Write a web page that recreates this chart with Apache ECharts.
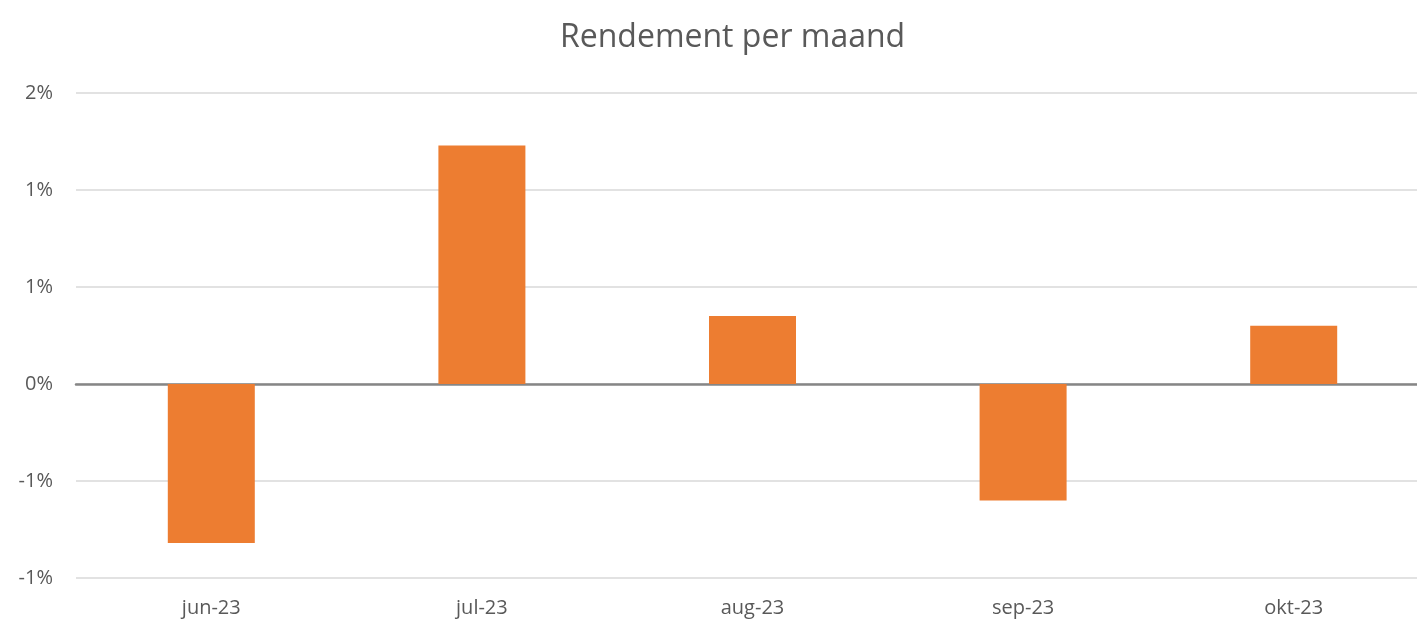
<!DOCTYPE html>
<html>
<head>
<meta charset="utf-8">
<script src="https://cdn.jsdelivr.net/npm/echarts@6/dist/echarts.min.js"></script>
<style>
html,body{margin:0;padding:0;background:#fff;overflow:hidden;}
#chart{width:1429px;height:621px;}
</style>
</head>
<body>
<div id="chart"></div>
<script>
var months = ['jun-23','jul-23','aug-23','sep-23','okt-23'];
var rendement = [-0.82, 1.23, 0.35, -0.60, 0.30];   // in %

function pctLabel(v){
	var r = Math.round(Math.abs(v));
	if(r==0) return '0%';
	return (v<0?'-':'')+r+'%';
}

var myChart = echarts.init(document.getElementById('chart'));
var option = {
	backgroundColor:'#ffffff',
	title:{
		text:'Rendement per maand',
		left:555,
		top:17,
		textStyle:{fontFamily:'Open Sans',fontWeight:'normal',fontSize:32,color:'#595959'}
	},
	// chart is wider than the window: the right part is cut off like the reference
	grid:{left:76,right:0,top:93,bottom:43,containLabel:false},
	xAxis:{
		type:'category',
		data:months,
		axisTick:{show:false},
		axisLine:{show:true,onZero:true,lineStyle:{color:'#868686',width:2.5}},
		axisLabel:{fontFamily:'Open Sans',fontSize:20,color:'#595959',margin:20,interval:0}
	},
	yAxis:{
		type:'value',
		min:-1,
		max:1.5,
		interval:0.5,
		axisLine:{show:false},
		axisTick:{show:false},
		splitLine:{lineStyle:{color:'#d9d9d9',width:1.5}},
		axisLabel:{fontFamily:'Open Sans',fontSize:20,color:'#595959',margin:23,formatter:pctLabel}
	},
	series:[{
		type:'bar',
		data:rendement,
		barWidth:87,
		itemStyle:{color:'#ed7d31'},
		silent:true
	}],
	animation:false
};
myChart.setOption(option);
</script>
</body>
</html>
